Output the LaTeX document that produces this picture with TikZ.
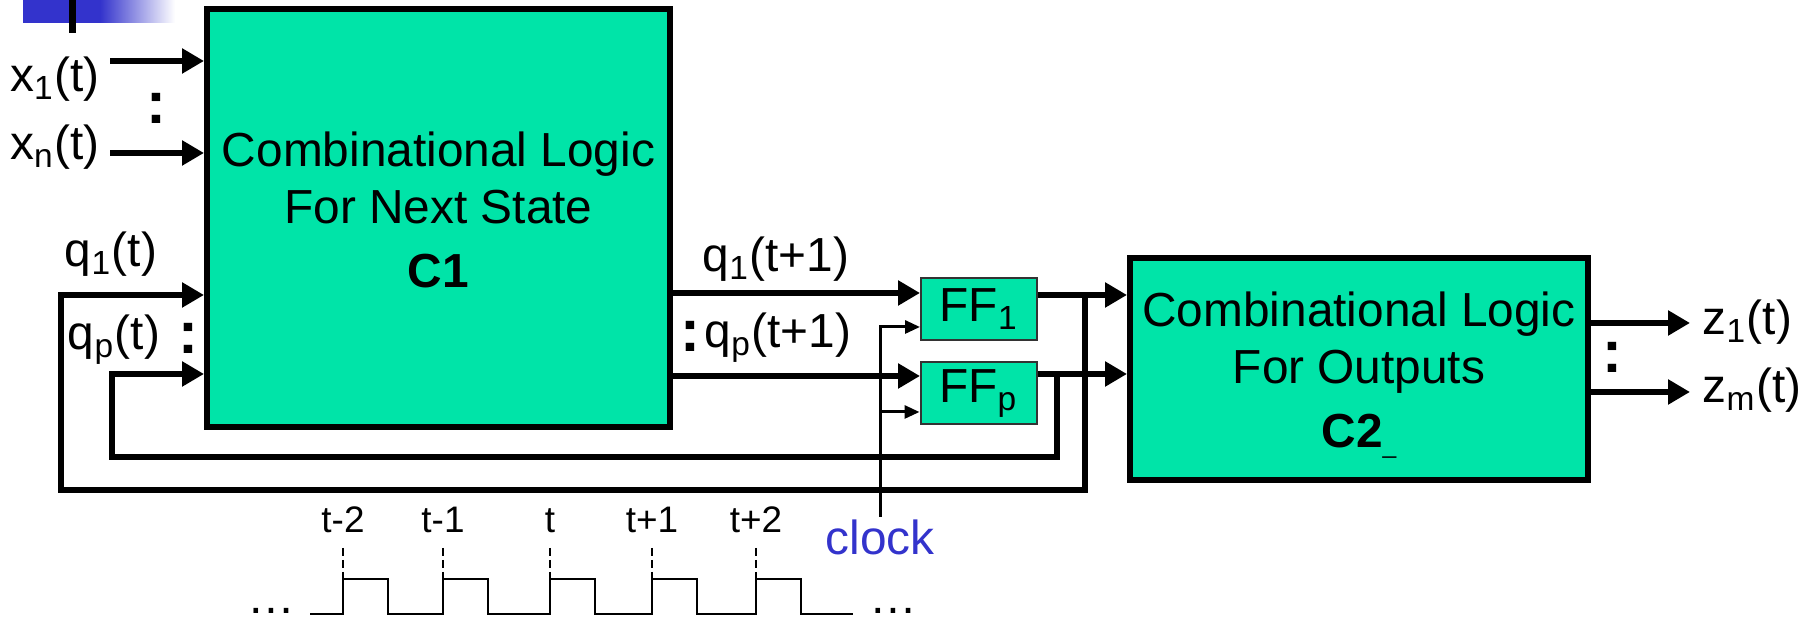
\documentclass[tikz,border=0pt]{standalone}
\usepackage{fontspec}
\setmainfont{Liberation Sans}
\usetikzlibrary{arrows.meta}

\definecolor{logicgreen}{RGB}{0,228,168}
\definecolor{slideblue}{RGB}{51,51,204}

\newcommand{\sigfont}{\fontsize{13.6}{16.2}\selectfont}
\newcommand{\tickfont}{\fontsize{10.5}{12}\selectfont}
\newcommand{\dotfont}{\fontsize{17}{17}\selectfont\bfseries}

\tikzset{
  bus/.style = {line width=0.06cm},
  busarrow/.style = {bus, -{Triangle[length=0.22cm,width=0.24cm]}},
  clockline/.style = {line width=0.03cm},
  clockarrow/.style = {clockline, -{Triangle[length=0.15cm,width=0.13cm]}},
  logicbox/.style = {draw, line width=0.06cm, fill=logicgreen, inner sep=0pt},
  boxtext/.style = {font=\sigfont, align=center, inner sep=0pt},
  ffbox/.style = {draw=black!80, line width=0.02cm, fill=logicgreen, font=\sigfont,
                  minimum width=1.16cm, minimum height=0.62cm, inner sep=0pt},
  sig/.style = {font=\sigfont, anchor=base, inner sep=0pt},
  busdots/.style = {font=\dotfont, inner sep=0pt},
  ticklabel/.style = {font=\tickfont, anchor=base, inner sep=0pt},
  tickdash/.style = {dashed, dash pattern=on 2.3pt off 1.1pt, line width=0.015cm},
  wave/.style = {line width=0.023cm}
}

\begin{document}
\begin{tikzpicture}
	\useasboundingbox (0,0) rectangle (18.04,6.19);
	% slide decoration
	\fill [slideblue] (0.23,6.19) rectangle (1.00,5.96);
	\shade [left color=slideblue, right color=white] (1.00,6.19) rectangle (1.75,5.96);
	\fill (0.69,6.19) rectangle (0.76,5.86);

	% blocks
	\node [logicbox, minimum width=4.63cm, minimum height=4.18cm] (c1) at (4.385,4.01) {};
	\node [boxtext] (c1text) at (4.385,4.095) {Combinational Logic\\For Next State\\[2pt]\textbf{C1}};
	\node [ffbox] (ff1) at (9.79,3.10) {FF\textsubscript{1}};
	\node [ffbox] (ffp) at (9.785,2.255) {FF\textsubscript{p}};
	\node [logicbox, minimum width=4.58cm, minimum height=2.22cm] (c2) at (13.59,2.50) {};
	\node [boxtext] (c2text) at (13.59,2.49) {Combinational Logic\\For Outputs\\[2pt]\textbf{C2}\smash{\raisebox{-0.06cm}{\fontsize{7}{7}\selectfont\_}}};

	% rows and loop corners
	\coordinate (xin1) at (1.10,5.58);
	\coordinate (xinn) at (1.10,4.66);
	\coordinate (rowa) at (0,3.24);
	\coordinate (rowb) at (0,2.45);
	\coordinate (nexta) at (0,3.26);
	\coordinate (nextb) at (0,2.43);
	\coordinate (outer) at (10.85,1.29);
	\coordinate (outerleft) at (0.61,1.29);
	\coordinate (inner) at (10.57,1.62);
	\coordinate (innerleft) at (1.12,1.62);
	\coordinate (zout1) at (16.90,2.96);
	\coordinate (zoutm) at (16.90,2.27);

	% inputs
	\draw [busarrow] (xin1) -- (xin1 -| c1.west);
	\draw [busarrow] (xinn) -- (xinn -| c1.west);
	\node [sig] (x1lab) at (0.55,5.27) {x\textsubscript{1}(t)};
	\node [sig] (xnlab) at (0.55,4.59) {x\textsubscript{n}(t)};
	\node [busdots] (xdots) at (1.56,5.105) {:};

	% next state to flip-flops
	\draw [busarrow] (c1.east |- nexta) -- (ff1.west |- nexta);
	\draw [busarrow] (c1.east |- nextb) -- (ff1.west |- nextb);
	\node [sig] (q1next) at (7.76,3.47) {q\textsubscript{1}(t+1)};
	\node [sig] (qpnext) at (7.78,2.71) {q\textsubscript{p}(t+1)};
	\node [busdots] (nextdots) at (6.90,2.83) {:};

	% flip-flops to C2, feedback loops to C1
	\draw [busarrow] (ff1.east |- rowa) -- (c2.west |- rowa);
	\draw [busarrow] (ffp.east |- rowb) -- (c2.west |- rowb);
	\draw [busarrow] (outer |- rowa) -- (outer) -- (outerleft) -- (outerleft |- rowa) -- (c1.west |- rowa);
	\draw [busarrow] (inner |- rowb) -- (inner) -- (innerleft) -- (innerleft |- rowb) -- (c1.west |- rowb);
	\node [sig] (q1lab) at (1.11,3.52) {q\textsubscript{1}(t)};
	\node [sig] (qplab) at (1.14,2.69) {q\textsubscript{p}(t)};
	\node [busdots] (qdots) at (1.88,2.805) {:};

	% outputs
	\draw [busarrow] (c2.east |- zout1) -- (zout1);
	\draw [busarrow] (c2.east |- zoutm) -- (zoutm);
	\node [sig, anchor=base west] (z1lab) at (17.02,2.84) {z\textsubscript{1}(t)};
	\node [sig, anchor=base west] (zmlab) at (17.02,2.16) {z\textsubscript{m}(t)};
	\node [busdots] (zdots) at (16.12,2.615) {:};

	% clock
	\node [sig, text=slideblue, inner sep=0.03cm] (clk) at (8.80,0.64) {clock};
	\coordinate (ff1clk) at ([yshift=-0.18cm]ff1.west);
	\coordinate (ffpclk) at ([yshift=-0.185cm]ffp.west);
	\draw [clockarrow] (clk.north) |- (ff1clk);
	\draw [clockarrow] (clk.north |- ffpclk) -- (ffpclk);

	% clock waveform
	\draw [wave] (3.10,0.05) \foreach \r in {3.43,4.43,5.50,6.52,7.56} { -- (\r,0.05) -- (\r,0.40) -- (\r+0.45,0.40) -- (\r+0.45,0.05) } -- (8.53,0.05);
	\foreach \r/\lab [count=\i] in {3.43/t-2, 4.43/t-1, 5.50/t, 6.52/t+1, 7.56/t+2} {
		\draw [tickdash] (\r,0.71) -- (\r,0.40);
		\node [ticklabel] (tick\i) at (\r,0.86) {\lab};
	}
	\node [sig] (dotsleft) at (2.71,0.05) {…};
	\node [sig] (dotsright) at (8.93,0.05) {…};
\end{tikzpicture}
\end{document}
